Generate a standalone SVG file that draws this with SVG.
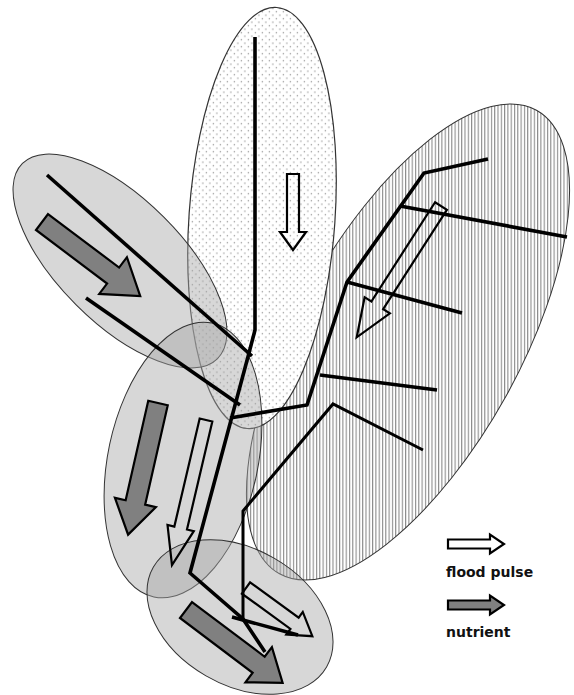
<svg xmlns="http://www.w3.org/2000/svg" width="574" height="695" viewBox="0 0 574 695">
<defs>
<pattern id="stripes" patternUnits="userSpaceOnUse" width="3.3" height="10" patternTransform="rotate(-29)">
<rect x="0" y="0" width="1.1" height="10" fill="#8a8a8a"/>
</pattern>
<pattern id="dots" patternUnits="userSpaceOnUse" width="7" height="7" patternTransform="rotate(-4)">
<circle cx="1.5" cy="1.5" r="0.7" fill="#8a8a8a"/>
<circle cx="5" cy="5" r="0.7" fill="#8a8a8a"/>
</pattern>
</defs>
<style>
.zone{stroke:#333;stroke-width:1}
.grey{fill:#a6a6a6;fill-opacity:0.45}
.river{fill:none;stroke:#000;stroke-width:3.6;stroke-linejoin:miter;stroke-linecap:butt}
.thin{stroke-width:3}
.flood{fill:none;stroke:#000;stroke-width:2.2;stroke-linejoin:miter}
.key{fill:#fff}
.nutrient{fill:#808080;stroke:#000;stroke-width:2.2;stroke-linejoin:miter}
.label{font-family:"DejaVu Sans","Verdana",sans-serif;font-weight:bold;font-size:14px;fill:#111}
</style>
<rect width="574" height="695" fill="#fff"/>
<g id="zone-right">
<ellipse cx="408" cy="342" rx="112" ry="265" transform="rotate(29 408 342)" fill="#fff"/>
<ellipse cx="408" cy="342" rx="112" ry="265" transform="rotate(29 408 342)" fill="url(#stripes)" stroke="#333" stroke-width="1"/>
</g>
<g id="zone-upper">
<ellipse cx="262" cy="218" rx="73" ry="211" transform="rotate(4 262 218)" fill="#fff"/>
<ellipse cx="262" cy="218" rx="73" ry="211" transform="rotate(4 262 218)" fill="url(#dots)" stroke="#333" stroke-width="1.2"/>
</g>
<g id="zone-left">
<ellipse class="zone grey" cx="120" cy="261" rx="138" ry="62" transform="rotate(45 120 261)"/>
</g>
<g id="zone-middle">
<ellipse class="zone grey" cx="183" cy="460" rx="75" ry="140" transform="rotate(12 183 460)"/>
</g>
<g id="zone-lower">
<ellipse class="zone grey" cx="240" cy="617" rx="100" ry="68" transform="rotate(30 240 617)"/>
</g>
<g id="connectors">
<polyline class="river" points="255,37 255,330 249,353 190,573 243,619 265,652"/>
<line class="river" x1="47" y1="175" x2="252" y2="356"/>
<line class="river" x1="86" y1="298" x2="240" y2="405"/>
<polyline class="river" points="230,418 307,405 347,282 424,173 488,159"/>
<line class="river" x1="320" y1="375" x2="437" y2="390"/>
<line class="river" x1="347" y1="282" x2="462" y2="313"/>
<line class="river" x1="400" y1="206" x2="567" y2="237"/>
<polyline class="river thin" points="243,619 243,511 333,404 423,450"/>
<line class="river" x1="232" y1="617" x2="298" y2="635"/>
</g>
<g id="flows">
<polygon class="nutrient" transform="translate(42,222) rotate(37)" points="0,-10 89,-10 89,-23 123,0 89,23 89,10 0,10"/>
<polygon class="nutrient" transform="translate(158,403) rotate(102.8)" points="0,-10 102,-10 102,-21 135,0 102,21 102,10 0,10"/>
<polygon class="nutrient" transform="translate(186,610) rotate(37)" points="0,-10 91,-10 91,-22 121,0 91,22 91,10 0,10"/>
<polygon class="flood" transform="translate(293,174) rotate(90)" points="0,-6 58,-6 58,-13 76,0 58,13 58,6 0,6"/>
<polygon class="flood" transform="translate(441,206) rotate(122.7)" points="0,-7 118,-7 118,-15 156,0 118,15 118,7 0,7"/>
<polygon class="flood" transform="translate(206,420) rotate(103.2)" points="0,-6.5 111,-6.5 111,-13.5 149,0 111,13.5 111,6.5 0,6.5"/>
<polygon class="flood" transform="translate(246,588) rotate(36)" points="0,-7 60,-7 60,-14 82,0 60,14 60,7 0,7"/>
</g>
<g id="legend">
<polygon class="flood key" transform="translate(448,544)" points="0,-4.5 42,-4.5 42,-9.5 56,0 42,9.5 42,4.5 0,4.5"/>
<text class="label" x="446" y="577">flood pulse</text>
<polygon class="nutrient" transform="translate(448,605)" points="0,-4.5 42,-4.5 42,-9.5 56,0 42,9.5 42,4.5 0,4.5"/>
<text class="label" x="446" y="637">nutrient</text>
</g>
</svg>
